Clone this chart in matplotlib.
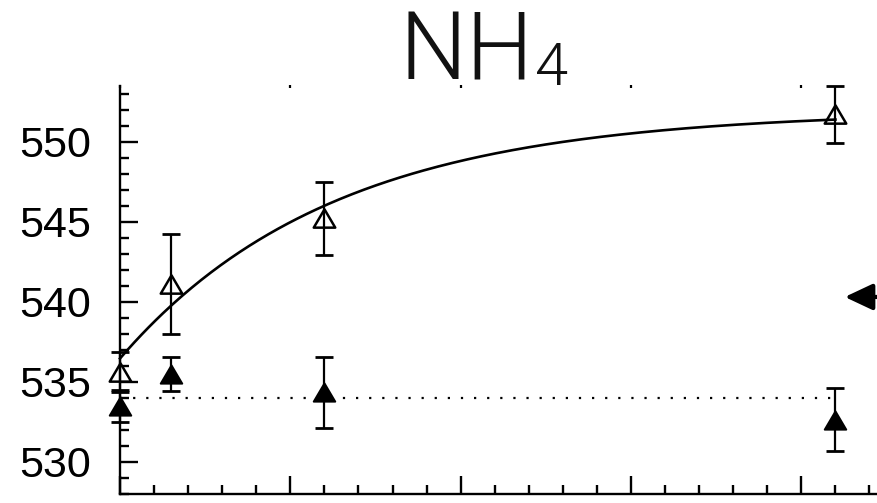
import numpy as np
import matplotlib
matplotlib.use("Agg")
import matplotlib.pyplot as plt
from matplotlib.path import Path
from matplotlib.ticker import MultipleLocator, NullFormatter

# measurement times and the two series (mean +/- error)
time_points = [0, 3, 12, 42]
open_values = [535.6, 541.1, 545.2, 551.7]
open_errors = [1.25, 3.1, 2.25, 1.8]
filled_values = [533.5, 535.5, 534.35, 532.65]
filled_errors = [1.0, 1.05, 2.2, 1.95]
y_ticks = [530, 535, 540, 545, 550]

# exponential rise fitted to the open-symbol series
fit_start = 536.46
fit_amplitude = 15.45
fit_rate = 0.08

# level marked by the side arrow
arrow_level = 540.3

W, H = 878, 503
fig = plt.figure(figsize=(W / 100, H / 100), dpi=100)

left_px, right_px, top_px, bottom_px = 120, 878, 85.5, 494
ax = fig.add_axes([left_px / W, (H - bottom_px) / H,
                   (right_px - left_px) / W, (bottom_px - top_px) / H])
ax.set_xlim(0, 44.5)
ax.set_ylim(528, 553.5)

for side in ("top", "right"):
    ax.spines[side].set_visible(False)
for side in ("left", "bottom"):
    ax.spines[side].set_linewidth(1.7)

ax.xaxis.set_major_locator(MultipleLocator(10))
ax.xaxis.set_minor_locator(MultipleLocator(2))
ax.xaxis.set_major_formatter(NullFormatter())
ax.set_yticks(y_ticks)
ax.yaxis.set_minor_locator(MultipleLocator(1))
ax.set_yticklabels([str(v) for v in y_ticks], fontsize=31,
                   family=["Liberation Sans", "DejaVu Sans"])
ax.tick_params(which="major", direction="in", length=13, width=1.7, pad=21)
ax.tick_params(which="minor", direction="in", length=6.5, width=1.7)

# short tick stubs along the upper edge
top_axis = ax.secondary_xaxis("top")
top_axis.spines["top"].set_visible(False)
top_axis.xaxis.set_major_locator(MultipleLocator(10))
top_axis.xaxis.set_minor_locator(plt.NullLocator())
top_axis.xaxis.set_major_formatter(NullFormatter())
top_axis.tick_params(which="major", direction="in", length=2, width=1.6)

# triangle marker, a little wider than tall
tri = Path([(0, 0.85), (-1, -0.85), (1, -0.85), (0, 0.85)],
           [Path.MOVETO, Path.LINETO, Path.LINETO, Path.CLOSEPOLY])

# fitted curve
xs = np.linspace(time_points[0], time_points[-1], 300)
ax.plot(xs, fit_start + fit_amplitude * (1 - np.exp(-fit_rate * xs)),
        color="black", lw=1.9, clip_on=False, zorder=3)

# dotted reference line at the mean of the filled series
ax.plot([time_points[0], time_points[-1]], [np.mean(filled_values)] * 2,
        color="black", lw=1.6, linestyle=(0, (1, 4.9)), zorder=2)

err_kw = dict(fmt="none", ecolor="black", elinewidth=1.6, capsize=6.5,
              capthick=2.0, zorder=4)
for vals, errs in ((open_values, open_errors), (filled_values, filled_errors)):
    bars = ax.errorbar(time_points, vals, yerr=errs, **err_kw)
    for art in bars.lines[1] + bars.lines[2]:
        art.set_clip_on(False)

ax.plot(time_points, open_values, linestyle="none", marker=tri, ms=15.5,
        mfc="none", mec="black", mew=1.8, clip_on=False, zorder=5)
ax.plot(time_points, filled_values, linestyle="none", marker=tri, ms=15.5,
        mfc="black", mec="black", mew=1.4, clip_on=False, zorder=5)

ax.annotate("", xy=(42.55, arrow_level), xytext=(46.5, arrow_level),
            xycoords="data", textcoords="data", annotation_clip=False,
            arrowprops=dict(arrowstyle="-|>,head_length=0.85,head_width=0.4",
                            mutation_scale=20, lw=3, color="black",
                            shrinkA=0, shrinkB=0))

# chemical-formula title with subscript
title_font = ["Roboto", "DejaVu Sans"]
fig.text(400 / W, (H - 80) / H, "NH", fontsize=68, family=title_font,
         fontweight=300, ha="left", va="baseline", color="#111111")
fig.text(535 / W, (H - 85) / H, "4", fontsize=43, family=title_font,
         fontweight=300, ha="left", va="baseline", color="#111111")

fig.savefig("out.png", dpi=100)
